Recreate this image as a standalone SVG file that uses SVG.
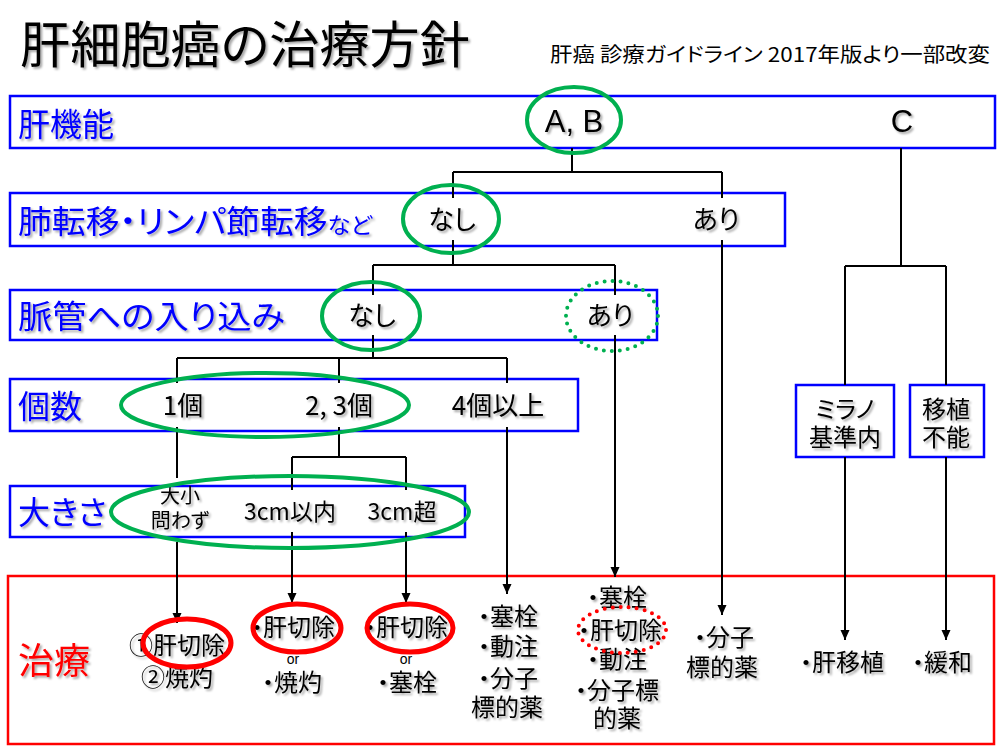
<svg xmlns="http://www.w3.org/2000/svg" width="1008" height="756" viewBox="0 0 1008 756">
<style>
text{font-family:"Noto Sans CJK JP","Noto Sans",sans-serif;font-feature-settings:"palt";}
.sh{filter:url(#shadow);}
.title{font-size:50px;fill:#000;}
.sub{font-size:20px;fill:#000;}
.lbl{font-size:32px;fill:#0000ff;}
.val{font-size:26px;fill:#000;text-anchor:middle;}
.lat{font-family:"Liberation Sans",Arial,sans-serif;font-size:31px;fill:#000;text-anchor:middle;}
.tr{font-size:24px;fill:#000;text-anchor:middle;}
.or{font-family:"Liberation Sans",Arial,sans-serif;font-size:14px;fill:#000;text-anchor:middle;}
.bbox{fill:#fff;stroke:#0000ff;stroke-width:2.5;}
.rbox{fill:#fff;stroke:#ff0000;stroke-width:2.5;}
.gel{fill:none;stroke:#00b050;stroke-width:4;}
.gdot{fill:none;stroke:#00b050;stroke-width:4;stroke-dasharray:0 8;stroke-linecap:round;}
.rel{fill:none;stroke:#ff0000;stroke-width:5;}
.rdot{fill:none;stroke:#ff0000;stroke-width:4;stroke-dasharray:0 8;stroke-linecap:round;}
.ln{fill:none;stroke:#000;stroke-width:2;}
.ar{fill:none;stroke:#000;stroke-width:2;marker-end:url(#arrow);}
</style>
<defs>
<filter id="shadow" x="-10%" y="-20%" width="130%" height="150%">
<feDropShadow dx="2" dy="2" stdDeviation="1.2" flood-color="#000" flood-opacity="0.35"/>
</filter>
<marker id="arrow" markerUnits="userSpaceOnUse" markerWidth="10" markerHeight="10" refX="10" refY="4.5" orient="auto">
<path d="M0,0 L10,4.5 L0,9 z" fill="#000"/>
</marker>
</defs>
<rect width="1008" height="756" fill="#fff"/>

<g id="title">
<text class="title sh" x="20" y="63" textLength="450" lengthAdjust="spacingAndGlyphs">肝細胞癌の治療方針</text>
<text class="sub" x="550" y="62" textLength="440" lengthAdjust="spacingAndGlyphs">肝癌 診療ガイドライン 2017年版より一部改変</text>
</g>

<g id="row-liver">
<rect class="bbox" x="10" y="96" width="985" height="52"/>
<text class="lbl sh" x="18" y="136">肝機能</text>
<text class="lat sh" x="574" y="132">A, B</text>
<text class="lat sh" x="902" y="132">C</text>
</g>

<g id="row-meta">
<rect class="bbox" x="10" y="193" width="775" height="53"/>
<text class="lbl sh" x="18" y="233" textLength="354" lengthAdjust="spacingAndGlyphs">肺転移・リンパ節転移<tspan style="font-size:22px">など</tspan></text>
<text class="val sh" x="452" y="229">なし</text>
<text class="val sh" x="716" y="229">あり</text>
</g>

<g id="row-vessel">
<rect class="bbox" x="10" y="290" width="647" height="50"/>
<text class="lbl sh" x="18" y="328" textLength="267" lengthAdjust="spacingAndGlyphs">脈管への入り込み</text>
<text class="val sh" x="372" y="325">なし</text>
<text class="val sh" x="610" y="325">あり</text>
</g>

<g id="row-count">
<rect class="bbox" x="10" y="379" width="568" height="52"/>
<text class="lbl sh" x="18" y="418">個数</text>
<text class="val sh" x="183" y="415">1個</text>
<text class="val sh" x="339" y="415">2, 3個</text>
<text class="val sh" x="498" y="415">4個以上</text>
</g>

<g id="row-size">
<rect class="bbox" x="10" y="486" width="455" height="51"/>
<text class="lbl sh" x="18" y="524">大きさ</text>
<text class="tr sh" x="180" y="503" style="font-size:20px">大小</text>
<text class="tr sh" x="180" y="528" style="font-size:20px">問わず</text>
<text class="tr sh" x="290" y="520" style="font-size:23px">3cm以内</text>
<text class="tr sh" x="402" y="520" style="font-size:23px">3cm超</text>
</g>

<g id="box-milan">
<rect class="bbox" x="796" y="385" width="98" height="72"/>
<text class="tr sh" x="845" y="418">ミラノ</text>
<text class="tr sh" x="845" y="446">基準内</text>
</g>

<g id="box-notransplant">
<rect class="bbox" x="910" y="385" width="74" height="72"/>
<text class="tr sh" x="946" y="418">移植</text>
<text class="tr sh" x="946" y="446">不能</text>
</g>

<g id="treatment">
<rect class="rbox" x="8" y="576" width="986" height="168"/>
<text class="sh" x="18" y="674" style="font-size:36px;fill:#ff0000">治療</text>
<text class="tr sh" x="177" y="654">①肝切除</text>
<text class="tr sh" x="177" y="686">②焼灼</text>
<text class="tr sh" x="293" y="636">・肝切除</text>
<text class="or" x="293" y="664">or</text>
<text class="tr sh" x="292" y="691">・焼灼</text>
<text class="tr sh" x="406" y="636">・肝切除</text>
<text class="or" x="406" y="664">or</text>
<text class="tr sh" x="407" y="691">・塞栓</text>
<text class="tr sh" x="508" y="625">・塞栓</text>
<text class="tr sh" x="508" y="655">・動注</text>
<text class="tr sh" x="508" y="687">・分子</text>
<text class="tr sh" x="507" y="716">標的薬</text>
<text class="tr sh" x="617" y="606">・塞栓</text>
<text class="tr sh" x="620" y="639">・肝切除</text>
<text class="tr sh" x="617" y="668">・動注</text>
<text class="tr sh" x="617" y="699">・分子標</text>
<text class="tr sh" x="617" y="727">的薬</text>
<text class="tr sh" x="724" y="646">・分子</text>
<text class="tr sh" x="722" y="676">標的薬</text>
<text class="tr sh" x="842" y="671">・肝移植</text>
<text class="tr sh" x="942" y="671">・緩和</text>
</g>

<g id="connectors">
<path class="ln" d="M572,148 V172 M453,172 H722 M453,172 V198 M722,172 V198"/>
<path class="ln" d="M453,240 V265 M373,265 H615 M373,265 V295 M615,265 V295"/>
<path class="ln" d="M373,335 V358 M177,358 H507 M177,358 V383 M339,358 V383 M507,358 V383"/>
<path class="ln" d="M339,427 V457 M292,457 H406 M292,457 V490 M406,457 V490 M177,427 V478"/>
<path class="ln" d="M901,148 V266 M845,266 H946 M845,266 V385 M946,266 V385"/>
<path class="ar" d="M177,542 V623"/>
<path class="ar" d="M292,532 V603"/>
<path class="ar" d="M406,532 V603"/>
<path class="ar" d="M507,427 V594"/>
<path class="ar" d="M615,335 V577"/>
<path class="ar" d="M722,240 V615"/>
<path class="ar" d="M845,457 V640"/>
<path class="ar" d="M946,457 V640"/>
</g>

<g id="highlights">
<ellipse class="gel" cx="574" cy="120" rx="47" ry="33"/>
<ellipse class="gel" cx="451" cy="219" rx="48" ry="34"/>
<ellipse class="gel" cx="371" cy="316" rx="49" ry="34"/>
<ellipse class="gdot" cx="612" cy="316" rx="46" ry="35"/>
<ellipse class="gel" cx="265" cy="405" rx="144" ry="32"/>
<ellipse class="gel" cx="290" cy="512" rx="179" ry="36"/>
<ellipse class="rel" cx="187" cy="643" rx="44" ry="24"/>
<ellipse class="rel" cx="297" cy="628" rx="44" ry="24"/>
<ellipse class="rel" cx="410" cy="628" rx="43" ry="24"/>
<ellipse class="rdot" cx="622" cy="630" rx="44" ry="23"/>
</g>
</svg>
